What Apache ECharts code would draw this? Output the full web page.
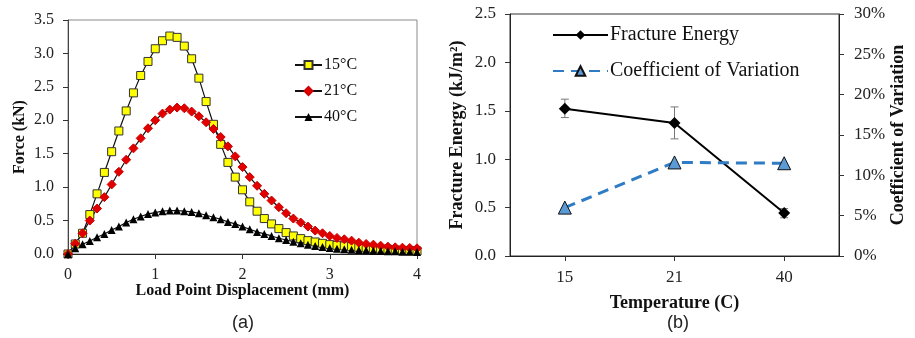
<!DOCTYPE html>
<html>
<head>
<meta charset="utf-8">
<script src="https://cdn.jsdelivr.net/npm/echarts@6/dist/echarts.min.js"></script>
<style>
html, body { margin: 0; padding: 0; background: #fff; }
#chart { width: 915px; height: 338px; }
</style>
</head>
<body>
<div id="chart"></div>
<script>
// (a) load point displacement (mm) and force (kN) per temperature
const disp = [0, 0.083, 0.167, 0.25, 0.333, 0.417, 0.5, 0.583, 0.667, 0.75, 0.833, 0.917,
  1, 1.083, 1.167, 1.25, 1.333, 1.417, 1.5, 1.583, 1.667, 1.75, 1.833, 1.917,
  2, 2.083, 2.167, 2.25, 2.333, 2.417, 2.5, 2.583, 2.667, 2.75, 2.833, 2.917,
  3, 3.083, 3.167, 3.25, 3.333, 3.417, 3.5, 3.583, 3.667, 3.75, 3.833, 3.917, 4]
const force15 = [0, 0.15, 0.31, 0.59, 0.9, 1.22, 1.53, 1.84, 2.14, 2.41, 2.67, 2.88,
  3.07, 3.19, 3.26, 3.24, 3.11, 2.92, 2.63, 2.28, 1.94, 1.64, 1.37, 1.15,
  0.96, 0.78, 0.64, 0.53, 0.45, 0.38, 0.32, 0.27, 0.23, 0.2, 0.18, 0.16,
  0.14, 0.13, 0.12, 0.11, 0.1, 0.09, 0.08, 0.075, 0.07, 0.06, 0.055, 0.05, 0.045]
const force21 = [0, 0.155, 0.31, 0.5, 0.68, 0.85, 1.04, 1.23, 1.41, 1.58, 1.73, 1.88,
  2.0, 2.1, 2.16, 2.19, 2.18, 2.13, 2.06, 1.97, 1.87, 1.75, 1.61, 1.46,
  1.3, 1.15, 1.02, 0.9, 0.8, 0.7, 0.61, 0.53, 0.47, 0.41, 0.35, 0.31,
  0.27, 0.24, 0.22, 0.2, 0.17, 0.15, 0.14, 0.125, 0.11, 0.1, 0.095, 0.09, 0.085]
const force40 = [0, 0.085, 0.145, 0.195, 0.25, 0.3, 0.36, 0.41, 0.47, 0.52, 0.56, 0.6,
  0.62, 0.64, 0.65, 0.65, 0.64, 0.63, 0.61, 0.58, 0.55, 0.52, 0.48, 0.45,
  0.41, 0.37, 0.33, 0.3, 0.27, 0.235, 0.21, 0.185, 0.16, 0.14, 0.12, 0.105,
  0.09, 0.08, 0.07, 0.065, 0.06, 0.055, 0.05, 0.045, 0.04, 0.04, 0.035, 0.035, 0.03]

// (b) fracture energy (kJ/m2) with error bars, and coefficient of variation (%)
const temps = ['15', '21', '40']
const energy = [1.52, 1.374, 0.444]
const energyLow = [1.43, 1.21, 0.395]
const energyHigh = [1.62, 1.54, 0.49]
const cov = [6.0, 11.6, 11.5]

const serif = 'Liberation Serif'
const myChart = echarts.init(document.getElementById('chart'))

const pairs = ys => disp.map((x, i) => [x, ys[i]])

const axisCommon = {
  splitLine: { show: false },
  nameMoveOverlap: false,
  axisTick: { show: true, inside: false, length: 5, lineStyle: { color: '#333' } },
  axisLabel: { color: '#222', fontFamily: serif, fontSize: 16 },
  nameTextStyle: { color: '#111', fontFamily: serif, fontSize: 16, fontWeight: 'bold' }
}
const bigName = { ...axisCommon.nameTextStyle, fontSize: 18 }

const option = {
  animation: false,
  backgroundColor: '#fff',
  grid: [
    { left: 68, top: 20, width: 349, height: 234, show: true, borderColor: '#8a8a8a', borderWidth: 1 },
    { left: 510, top: 14, width: 329, height: 242, show: true, borderColor: '#333', borderWidth: 1 }
  ],
  legend: [
    {
      data: ['15°C', '21°C', '40°C'],
      orient: 'vertical',
      left: 289,
      top: 52,
      itemWidth: 27,
      itemHeight: 10,
      itemGap: 10,
      textStyle: { fontFamily: serif, fontSize: 16, color: '#111', padding: [0, 0, 0, -3] }
    },
    {
      data: ['Fracture Energy', 'Coefficient of Variation'],
      orient: 'vertical',
      left: 547,
      top: 20,
      itemWidth: 55,
      itemHeight: 12,
      itemGap: 16,
      textStyle: { fontFamily: serif, fontSize: 20, color: '#111', padding: [0, 0, 0, -3] }
    }
  ],
  xAxis: [
    {
      gridIndex: 0, type: 'value', min: 0, max: 4, interval: 1,
      name: 'Load Point Displacement (mm)', nameLocation: 'middle', nameGap: 29,
      axisLine: { lineStyle: { color: '#222' } },
      ...axisCommon,
      axisLabel: { ...axisCommon.axisLabel, margin: 13 }
    },
    {
      gridIndex: 1, type: 'category', data: temps, boundaryGap: true,
      name: 'Temperature (C)', nameLocation: 'middle', nameGap: 38,
      axisLine: { lineStyle: { color: '#222' } },
      ...axisCommon,
      nameTextStyle: bigName,
      axisTick: { ...axisCommon.axisTick, alignWithLabel: true },
      axisLabel: { ...axisCommon.axisLabel, fontSize: 17, margin: 13 }
    }
  ],
  yAxis: [
    {
      gridIndex: 0, type: 'value', min: 0, max: 3.5, interval: 0.5,
      name: 'Force (kN)', nameLocation: 'middle', nameGap: 40, nameRotate: 90,
      axisLine: { show: true, lineStyle: { color: '#444' } },
      ...axisCommon,
      axisLabel: { ...axisCommon.axisLabel, margin: 14, formatter: v => v.toFixed(1) }
    },
    {
      gridIndex: 1, type: 'value', min: 0, max: 2.5, interval: 0.5,
      name: 'Fracture Energy (kJ/m²)', nameLocation: 'middle', nameGap: 44, nameRotate: 90,
      axisLine: { show: true, lineStyle: { color: '#222' } },
      ...axisCommon,
      nameTextStyle: bigName,
      axisLabel: { ...axisCommon.axisLabel, fontSize: 17, margin: 14, formatter: v => v.toFixed(1) }
    },
    {
      gridIndex: 1, type: 'value', position: 'right', min: 0, max: 30, interval: 5,
      name: 'Coefficient of Variation', nameLocation: 'middle', nameGap: 50, nameRotate: 90,
      axisLine: { show: true, lineStyle: { color: '#222' } },
      ...axisCommon,
      nameTextStyle: bigName,
      axisLabel: { ...axisCommon.axisLabel, fontSize: 17, margin: 15, formatter: '{value}%' }
    }
  ],
  series: [
    {
      name: '15°C', type: 'line', xAxisIndex: 0, yAxisIndex: 0,
      data: pairs(force15),
      symbol: 'rect', symbolSize: 8,
      lineStyle: { color: '#111', width: 1.2 },
      itemStyle: { color: '#ffff00', borderColor: '#333', borderWidth: 1 }
    },
    {
      name: '21°C', type: 'line', xAxisIndex: 0, yAxisIndex: 0,
      data: pairs(force21),
      symbol: 'diamond', symbolSize: 9,
      lineStyle: { color: '#111', width: 1.2 },
      itemStyle: { color: '#e00000', borderColor: '#d00000', borderWidth: 1 }
    },
    {
      name: '40°C', type: 'line', xAxisIndex: 0, yAxisIndex: 0,
      data: pairs(force40),
      symbol: 'triangle', symbolSize: 8,
      lineStyle: { color: '#111', width: 1.2 },
      itemStyle: { color: '#000' }
    },
    {
      name: 'Fracture Energy', type: 'line', xAxisIndex: 1, yAxisIndex: 1,
      data: energy,
      symbol: 'diamond', symbolSize: 12,
      lineStyle: { color: '#000', width: 2 },
      itemStyle: { color: '#000' },
      z: 4
    },
    {
      name: 'energyError', type: 'custom', xAxisIndex: 1, yAxisIndex: 1,
      data: temps.map((t, i) => [i, energyLow[i], energyHigh[i]]),
      encode: { x: 0, y: [1, 2] },
      z: 3,
      renderItem: function (params, api) {
        const lo = api.coord([api.value(0), api.value(1)])
        const hi = api.coord([api.value(0), api.value(2)])
        const cap = 4
        const style = { stroke: '#777', lineWidth: 1 }
        return {
          type: 'group',
          children: [
            { type: 'line', shape: { x1: lo[0], y1: lo[1], x2: hi[0], y2: hi[1] }, style },
            { type: 'line', shape: { x1: lo[0] - cap, y1: lo[1], x2: lo[0] + cap, y2: lo[1] }, style },
            { type: 'line', shape: { x1: hi[0] - cap, y1: hi[1], x2: hi[0] + cap, y2: hi[1] }, style }
          ]
        }
      }
    },
    {
      name: 'Coefficient of Variation', type: 'line', xAxisIndex: 1, yAxisIndex: 2,
      data: cov,
      symbol: 'triangle', symbolSize: 13,
      lineStyle: { color: '#2f7bc4', width: 3, type: [11, 7] },
      itemStyle: { color: '#5b9bd5', borderColor: '#111', borderWidth: 1 },
      z: 5
    }
  ],
  graphic: [
    { type: 'text', left: 232, top: 314, style: { text: '(a)', font: '18px "Liberation Sans"', fill: '#222' } },
    { type: 'text', left: 667, top: 314, style: { text: '(b)', font: '18px "Liberation Sans"', fill: '#222' } }
  ]
}

option && myChart.setOption(option)
</script>
</body>
</html>
